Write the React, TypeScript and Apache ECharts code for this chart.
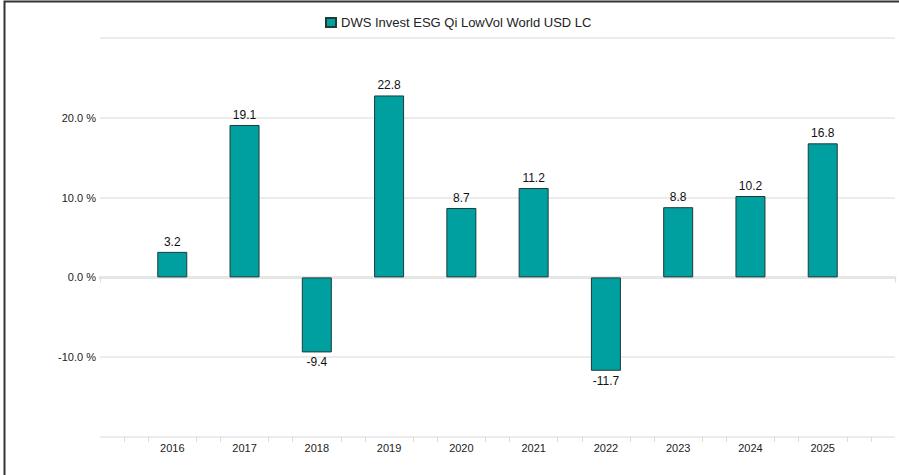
import React, { useEffect, useRef } from "react";
import * as echarts from "echarts";

const seriesName = "DWS Invest ESG Qi LowVol World USD LC";
const years = ["2016", "2017", "2018", "2019", "2020", "2021", "2022", "2023", "2024", "2025"];
const returns = [3.2, 19.1, -9.4, 22.8, 8.7, 11.2, -11.7, 8.8, 10.2, 16.8];
const yMin = -20;
const yMax = 30;
const yStep = 10;

export default function App() {
  const ref = useRef<HTMLDivElement>(null);
  useEffect(() => {
    if (!ref.current) return;
    const chart = echarts.init(ref.current, undefined, { renderer: "svg" });
    const cats = ["", ...years, ""];
    const vals = [null, ...returns, null];
    const minorCount = (cats.length - 1) * 3 + 1;
    const minorCats = Array.from({ length: minorCount }, () => "");
    const font = "'Liberation Sans', Arial, Helvetica, sans-serif";
    chart.setOption({
      animation: false,
      textStyle: { fontFamily: font },
      legend: {
        left: 320,
        top: 11,
        itemWidth: 10,
        itemHeight: 9,
        itemGap: 10,
        textStyle: { fontSize: 13, color: "#222", fontFamily: font },
        data: [{ name: seriesName, icon: "rect" }],
      },
      grid: { left: 100, right: 4, top: 38, bottom: 38, containLabel: false },
      xAxis: [
        {
          type: "category",
          data: cats,
          boundaryGap: false,
          position: "bottom",
          axisLine: { show: true, lineStyle: { color: "#e6e6e6", width: 3 } },
          axisTick: {
            show: true,
            length: 5,
            interval: (i: number) => i === 0 || i === cats.length - 1,
            lineStyle: { color: "#dcdcdc", width: 1 },
          },
          axisLabel: { interval: 0, fontSize: 11, color: "#222", margin: 5, fontFamily: font },
          splitLine: { show: false },
        },
        {
          type: "category",
          data: minorCats,
          boundaryGap: false,
          position: "bottom",
          axisLine: { show: false },
          axisTick: {
            show: true,
            length: 5,
            interval: (i: number) => i % 3 !== 0,
            lineStyle: { color: "#dcdcdc", width: 1 },
          },
          axisLabel: { show: false },
          splitLine: { show: false },
        },
      ],
      yAxis: {
        type: "value",
        min: yMin,
        max: yMax,
        interval: yStep,
        axisLine: { show: false },
        axisTick: { show: false },
        axisLabel: {
          showMinLabel: false,
          showMaxLabel: false,
          fontSize: 11,
          color: "#222",
          margin: 4,
          fontFamily: font,
          formatter: (v: number) => `${v.toFixed(1)} %`,
        },
        splitLine: { lineStyle: { color: "#e6e6e6", width: 1.5 } },
      },
      series: [
        {
          name: seriesName,
          type: "bar",
          xAxisIndex: 0,
          data: vals,
          barWidth: 30,
          itemStyle: { color: "#009fa0", borderColor: "#1d3b3b", borderWidth: 1 },
          label: {
            show: true,
            position: "outside",
            distance: 4,
            fontSize: 12,
            fontWeight: "normal",
            color: "#111",
            fontFamily: font,
            formatter: (p: any) => (p.value == null ? "" : Number(p.value).toFixed(1)),
          },
        },
      ],
      graphic: [
        {
          type: "rect",
          shape: { x: 4.5, y: 1.5, width: 1000, height: 1000 },
          style: { fill: "none", stroke: "#333", lineWidth: 2 },
          silent: true,
        },
      ],
    });
    return () => chart.dispose();
  }, []);
  return (
    <div
      ref={ref}
      style={{ position: "fixed", left: 0, top: 0, width: 899, height: 475, background: "#fff" }}
    />
  );
}
